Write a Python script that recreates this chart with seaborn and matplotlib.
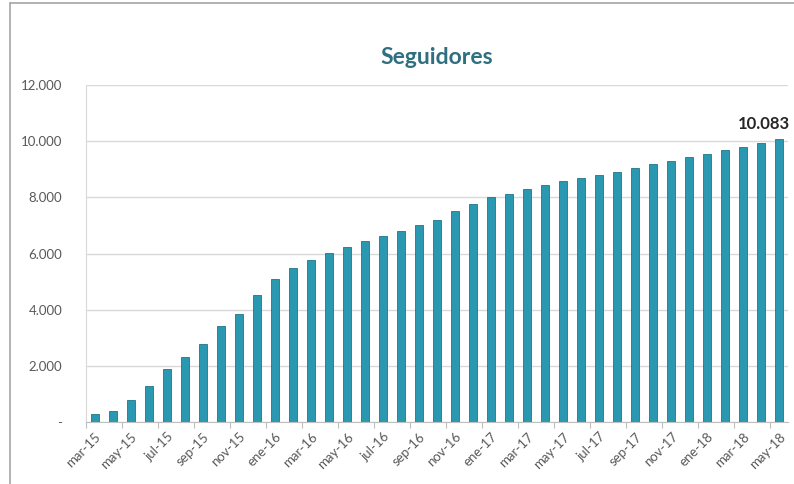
import pandas as pd
import seaborn as sns
import matplotlib.pyplot as plt
from matplotlib.ticker import FuncFormatter
from matplotlib.lines import Line2D

sns.set_style("white")
plt.rcParams['font.family'] = ['Lato', 'DejaVu Sans']

# months mar-15 .. may-18 (Spanish abbreviations)
meses = ['ene', 'feb', 'mar', 'abr', 'may', 'jun', 'jul', 'ago', 'sep', 'oct', 'nov', 'dic']
fechas = [f'{m}-{a}' for a in (15, 16, 17, 18) for m in meses][2:41]

seguidores = [270, 390, 800, 1270, 1890, 2330, 2770, 3420, 3860, 4510,
              5110, 5500, 5780, 6030, 6240, 6450, 6620, 6790, 7020, 7190,
              7520, 7780, 8000, 8120, 8290, 8460, 8590, 8690, 8800, 8920,
              9060, 9180, 9310, 9430, 9560, 9700, 9800, 9950, 10083]

df = pd.DataFrame({'fecha': fechas, 'seguidores': seguidores})

fig, ax = plt.subplots(figsize=(7.94, 4.84), dpi=100)
fig.subplots_adjust(left=0.108, right=0.993, top=0.824, bottom=0.128)

sns.barplot(data=df, x='fecha', y='seguidores', color='#2a98b0', width=0.45,
            saturation=1, edgecolor='#1f7588', linewidth=0.6, ax=ax)

ax.set_ylim(0, 12000)
ax.set_xlim(-0.5, len(fechas) - 0.5)
ax.set_yticks(range(0, 12001, 2000))
ax.yaxis.set_major_formatter(FuncFormatter(
    lambda v, p: '-' if v == 0 else f'{int(v):,}'.replace(',', '.')))
ax.yaxis.grid(True, color='#d9d9d9', linewidth=1)
ax.set_axisbelow(True)

# labels every other month, tick marks on category boundaries
ax.set_xticks(range(0, len(fechas), 2))
ax.set_xticklabels(fechas[::2], rotation=45, ha='right', rotation_mode='anchor')
ax.set_xticks([i - 0.5 for i in range(0, len(fechas) + 1, 2)], minor=True)
ax.tick_params(axis='x', which='major', length=0, pad=6, labelsize=9.5, labelcolor='#595959')
ax.tick_params(axis='x', which='minor', length=4, color='#bfbfbf', width=0.8, direction='out', bottom=True)
ax.tick_params(axis='y', length=0, pad=17, labelsize=9.5, labelcolor='#595959')

ax.set_xlabel('')
ax.set_ylabel('')
for s in ['top', 'right']:
    ax.spines[s].set_visible(False)
ax.spines['left'].set_color('#d9d9d9')
ax.spines['bottom'].set_color('#bfbfbf')

ax.set_title('Seguidores', fontsize=16.5, fontweight='bold', color='#2f6f7f', pad=15)

# data label on last bar, right-aligned to the plot edge like the original
ax.annotate(f'{seguidores[-1]:,}'.replace(',', '.'), (len(fechas) - 0.5, seguidores[-1]),
            xytext=(1, 5), textcoords='offset points', ha='right', va='bottom',
            fontsize=12, fontweight='bold', color='#262626', annotation_clip=False)

# chart frame (left and top edges visible in the crop)
fig.add_artist(Line2D([0.013, 0.013], [0, 0.994], color='#a6a6a6', lw=1.2))
fig.add_artist(Line2D([0.013, 1], [0.994, 0.994], color='#a6a6a6', lw=1.2))

fig.savefig('out.png', dpi=100)
